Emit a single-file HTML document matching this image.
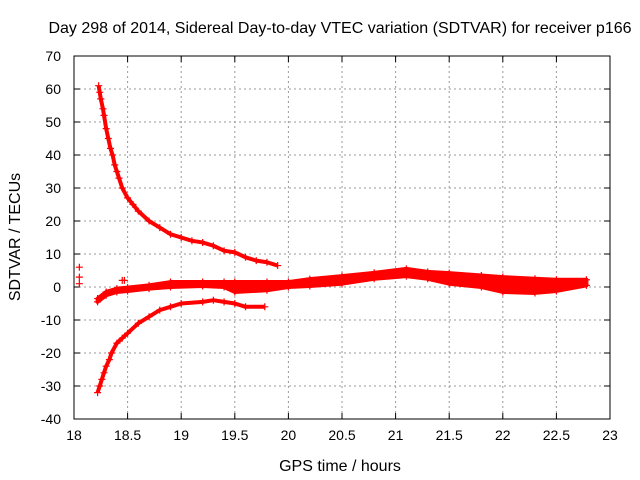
<!DOCTYPE html>
<html><head><meta charset="utf-8"><style>
body{margin:0;background:#fff}
svg{display:block;font-family:"Liberation Sans",Arial,sans-serif;font-size:13px}
</style></head><body>
<svg id="chart" width="640" height="480" viewBox="0 0 640 480">
<rect width="640" height="480" fill="#fff"/>
<text x="340" y="33" text-anchor="middle" font-size="16">Day 298 of 2014, Sidereal Day-to-day VTEC variation (SDTVAR) for receiver p166</text>
<g id="grid"></g>
<g id="axes"></g>
<g id="marks"></g>
<text x="340" y="471" text-anchor="middle" font-size="16">GPS time / hours</text>
<text transform="translate(20,237) rotate(-90)" text-anchor="middle" font-size="16">SDTVAR / TECUs</text>
</svg>
<script>
const xTicks=[18,18.5,19,19.5,20,20.5,21,21.5,22,22.5,23];
const xTickLabels=["18","18.5","19","19.5","20","20.5","21","21.5","22","22.5","23"];
const yTicks=[-40,-30,-20,-10,0,10,20,30,40,50,60,70];
const upperX=[18.23,18.24,18.25,18.27,18.28,18.3,18.32,18.34,18.36,18.38,18.4,18.42,18.45,18.5,18.55,18.6,18.7,18.8,18.9,19.0,19.1,19.2,19.3,19.4,19.5,19.6,19.7,19.8,19.9];
const upperY=[61,59,57,54,52,48,45,42,40,37,35,33,30,27,25,23,20,18,16,15,14,13.5,12.5,11,10.5,9,8,7.5,6.5];
const lowerX=[18.22,18.24,18.26,18.28,18.3,18.33,18.35,18.4,18.45,18.5,18.6,18.7,18.8,18.9,19.0,19.2,19.3,19.4,19.5,19.6,19.78];
const lowerY=[-32,-30,-28,-26,-24,-22,-20,-17,-15.5,-14,-11,-9,-7,-6,-5,-4.5,-4,-4.5,-5,-6,-6];
const midX=[18.22,18.3,18.4,18.5,18.7,18.9,19.2,19.4,19.5,19.8,20.0,20.2,20.5,20.8,21.1,21.3,21.5,21.8,22.0,22.3,22.5,22.78];
const midLo=[-4.5,-2.5,-1.5,-1.2,-0.5,0,0.3,0,-1.5,-1,0,0.3,1,2.5,3.3,2.5,1,0,-1.5,-1.8,-1.2,0.5];
const midHi=[-3.5,-1.5,-0.5,-0.2,0.5,1.5,1.5,1.5,1.5,1.5,1.5,2.4,3.3,4.3,5.5,4.6,4.2,3.5,3,2.5,2.2,2.2];
const extraX=[18.05,18.05,18.05,18.45,18.47];
const extraY=[6,3,1,2,2];

const L=74,R=610,T=56,B=419;
const sx=v=>L+(v-18)/5*(R-L);
const sy=v=>B-(v+40)/110*(B-T);
const NS="http://www.w3.org/2000/svg";
function mk(tag,attrs,parent){const e=document.createElementNS(NS,tag);for(const k in attrs)e.setAttribute(k,attrs[k]);parent.appendChild(e);return e;}
const grid=document.getElementById('grid'),axes=document.getElementById('axes'),marks=document.getElementById('marks');
xTicks.forEach((t,i)=>{const x=sx(t);
 if(i>0&&i<xTicks.length-1){const g=mk('line',{x1:x,x2:x,y1:T,y2:B,stroke:'#999','stroke-dasharray':'2,3'},grid);}
 mk('line',{x1:x,x2:x,y1:B,y2:B-6,stroke:'#000'},axes);mk('line',{x1:x,x2:x,y1:T,y2:T+6,stroke:'#000'},axes);
 const tx=mk('text',{x:x,y:B+21,'text-anchor':'middle','font-size':14},axes);tx.textContent=xTickLabels[i];
 });
yTicks.forEach((t,i)=>{const y=sy(t);
 if(i>0&&i<yTicks.length-1){const g=mk('line',{x1:L,x2:R,y1:y,y2:y,stroke:'#999','stroke-dasharray':'2,3'},grid);}
 mk('line',{x1:L,x2:L+6,y1:y,y2:y,stroke:'#000'},axes);mk('line',{x1:R,x2:R-6,y1:y,y2:y,stroke:'#000'},axes);
 const tx=mk('text',{x:L-13,y:y+5,'text-anchor':'end','font-size':14},axes);tx.textContent=String(t);
 });
const fr=mk('rect',{x:L,y:T,width:R-L,height:B-T,fill:'none',stroke:'#000'},axes);


function plus(x,y){mk('path',{d:`M${x-3.5},${y}h7M${x},${y-3.5}v7`,stroke:'#f00','stroke-width':1.2,fill:'none'},marks);}
function branch(xs,ys,name){
 const pl=mk('polyline',{points:xs.map((v,i)=>sx(v)+','+sy(ys[i])).join(' '),fill:'none',stroke:'#f00','stroke-width':4,'stroke-linejoin':'round'},marks);
 
 xs.forEach((v,i)=>plus(sx(v),sy(ys[i])));}
branch(upperX,upperY,'upper-branch-series');
branch(lowerX,lowerY,'lower-branch-series');
const pts=midX.map((v,i)=>sx(v)+','+sy(midHi[i])).concat(midX.map((v,i)=>sx(v)+','+sy(midLo[i])).reverse());
const band=mk('polygon',{points:pts.join(' '),fill:'#f00',stroke:'#f00','stroke-width':4,'stroke-linejoin':'round'},marks);

midX.forEach((v,i)=>{plus(sx(v),sy(midHi[i]));plus(sx(v),sy(midLo[i]));});
extraX.forEach((v,i)=>plus(sx(v),sy(extraY[i])));
</script>
</body></html>
